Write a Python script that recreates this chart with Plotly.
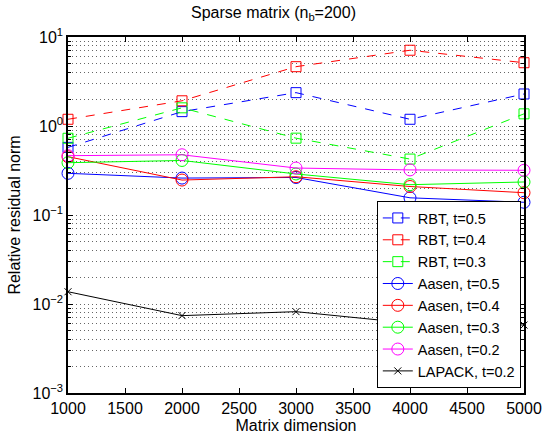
import plotly.graph_objects as go

dims = [1000, 2000, 3000, 4000, 5000]

rbt_05 = [0.575, 1.45, 2.37, 1.19, 2.29]
rbt_04 = [1.19, 1.92, 4.64, 7.1, 5.14]
rbt_03 = [0.728, 1.6, 0.73, 0.425, 1.37]
aasen_05 = [0.294, 0.26, 0.264, 0.156, 0.139]
aasen_04 = [0.452, 0.247, 0.269, 0.209, 0.178]
aasen_03 = [0.387, 0.41, 0.289, 0.219, 0.235]
aasen_02 = [0.464, 0.475, 0.337, 0.321, 0.318]
lapack_02 = [0.01374, 0.0074, 0.0082, 0.0061, 0.0058]

series = [
    ("RBT, t=0.5", rbt_05, "#0000ff", "dash", "square-open", 10),
    ("RBT, t=0.4", rbt_04, "#ff0000", "dash", "square-open", 10),
    ("RBT, t=0.3", rbt_03, "#00ff00", "dash", "square-open", 10),
    ("Aasen, t=0.5", aasen_05, "#0000ff", "solid", "circle-open", 12),
    ("Aasen, t=0.4", aasen_04, "#ff0000", "solid", "circle-open", 12),
    ("Aasen, t=0.3", aasen_03, "#00ff00", "solid", "circle-open", 12),
    ("Aasen, t=0.2", aasen_02, "#ff00ff", "solid", "circle-open", 12),
    ("LAPACK, t=0.2", lapack_02, "#000000", "solid", "x-thin-open", 7),
]

fig = go.Figure()
for name, vals, color, dash, sym, size in series:
    fig.add_trace(go.Scatter(
        x=dims, y=vals, name=name, mode="lines+markers",
        line=dict(color=color, width=1, dash=dash),
        marker=dict(symbol=sym, size=size, color=color,
                    line=dict(color=color, width=1)),
        cliponaxis=False,
    ))

font = "Liberation Sans, Arial, Helvetica, sans-serif"
fig.update_layout(
    width=547, height=436,
    margin=dict(l=68, r=23, t=37, b=43),
    paper_bgcolor="white", plot_bgcolor="white",
    font=dict(family=font, size=16, color="black"),
    title=dict(text="Sparse matrix (n<sub>b</sub>=200)", x=0.5, xanchor="center",
               y=0.985, yanchor="top", font=dict(size=16)),
    showlegend=True,
    legend=dict(x=0.993, y=0.014, xanchor="right", yanchor="bottom",
                bgcolor="white", bordercolor="black", borderwidth=1,
                font=dict(size=14.5), tracegroupgap=0, itemwidth=30),
)
fig.update_xaxes(
    range=[1000, 5000], tickvals=[1000, 1500, 2000, 2500, 3000, 3500, 4000, 4500, 5000],
    ticks="inside", ticklen=5, tickcolor="black", showline=True, linecolor="black",
    linewidth=1.5, mirror="allticks", showgrid=False, zeroline=False, automargin=False,
    title=dict(text="Matrix dimension", standoff=3, font=dict(size=16)),
    tickfont=dict(size=16),
)
fig.update_yaxes(
    type="log", range=[-3, 1], automargin=False,
    tickvals=[0.001, 0.01, 0.1, 1, 10],
    ticktext=["10<sup>−3</sup>", "10<sup>−2</sup>", "10<sup>−1</sup>", "10<sup>0</sup>", "10<sup>1</sup>"],
    ticks="inside", ticklen=5, tickcolor="black", showline=True, linecolor="black",
    linewidth=1.5, mirror="allticks", zeroline=False,
    showgrid=True, gridcolor="#666666", griddash="1px,3px", gridwidth=1,
    minor=dict(dtick="D1", ticks="inside", ticklen=3, tickcolor="black", showgrid=True,
               gridcolor="#666666", griddash="1px,3px", gridwidth=1),
    title=dict(text="Relative residual norm", standoff=8, font=dict(size=16)),
    tickfont=dict(size=16),
)

fig.write_html("out.html")
